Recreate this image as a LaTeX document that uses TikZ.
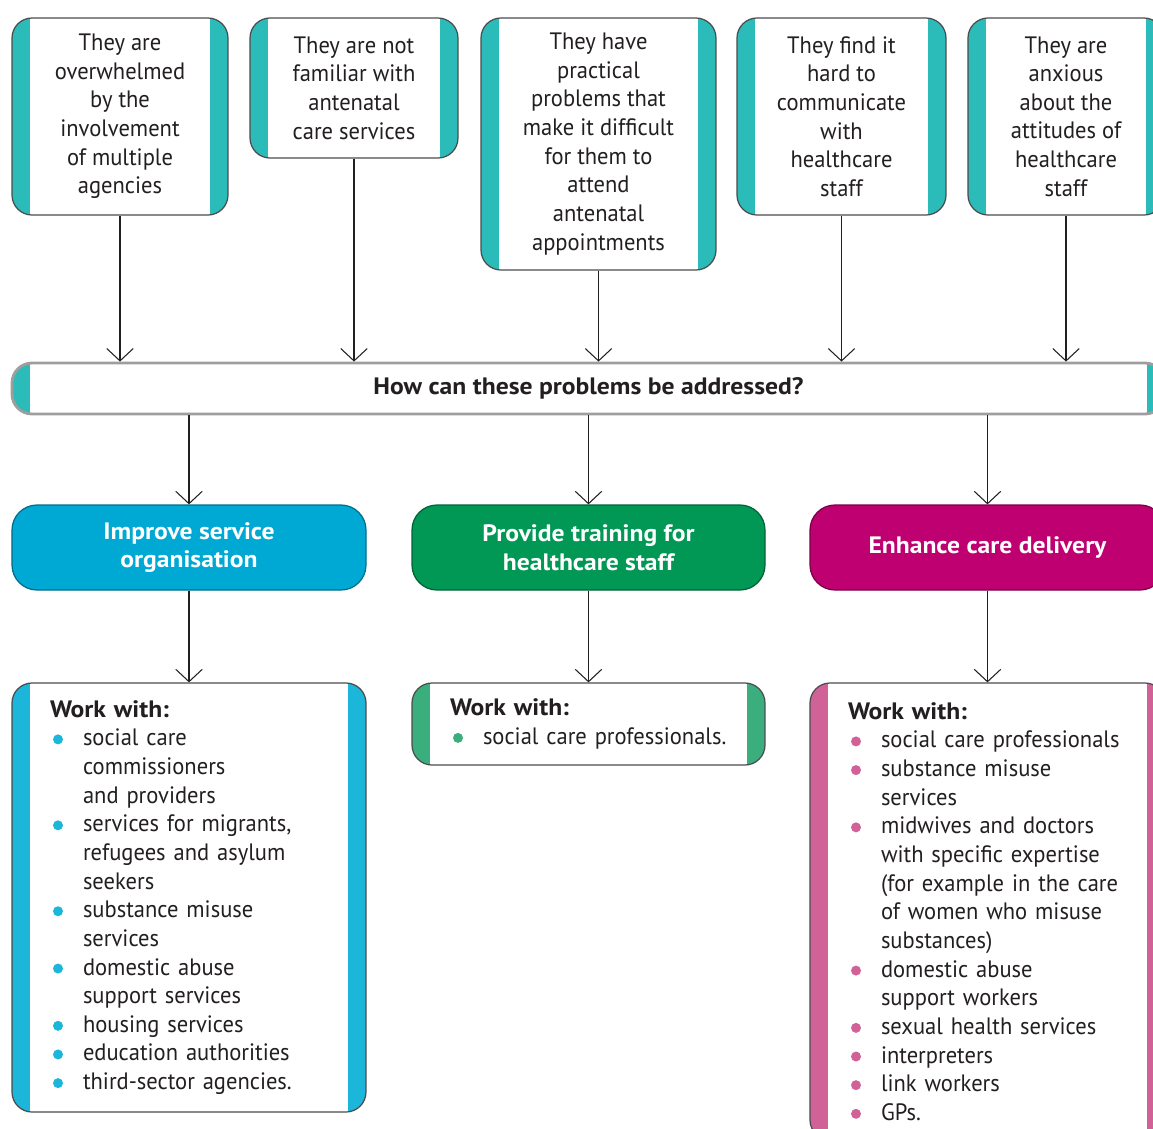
\documentclass[tikz,border=0pt]{standalone}
\usepackage{fontspec}
\setmainfont{PT Sans}[FakeStretch=0.95]
\newfontfamily\headfont{PT Sans}[FakeStretch=1.08]
\usetikzlibrary{arrows.meta,positioning,calc}

\definecolor{tealbar}{RGB}{43,187,185}
\definecolor{cyanfill}{RGB}{0,168,212}
\definecolor{greenfill}{RGB}{0,152,84}
\definecolor{magfill}{RGB}{190,0,112}
\definecolor{cyanbar}{RGB}{27,182,217}
\definecolor{greenbar}{RGB}{58,175,125}
\definecolor{pinkbar}{RGB}{208,98,152}
\definecolor{ink}{RGB}{35,31,32}

\hyphenpenalty=10000
\newcommand\bul[1]{\makebox[0.66cm][l]{\hspace*{0.06cm}\tikz[baseline=-0.13cm]\fill[#1] (0.1,0) circle (0.1cm);}}
\newcommand\cont{\hspace*{0.66cm}}
\newcommand\hd[1]{{\headfont\bfseries #1}}

\begin{document}
\begin{tikzpicture}[
  txt/.style={font=\fontsize{13.5}{16.3}\selectfont, text=ink},
  btxt/.style={font=\headfont\bfseries\fontsize{13.5}{16.3}\selectfont},
  bars/.style={path picture={
    \fill[#1, sharp corners] (path picture bounding box.south west) rectangle ([xshift=0.36cm]path picture bounding box.north west);
    \fill[#1, sharp corners] ([xshift=-0.36cm]path picture bounding box.south east) rectangle (path picture bounding box.north east);}},
  probbox/.style={txt, draw=black!70, line width=0.7pt, rounded corners=0.4cm, fill=white, align=center, inner sep=0pt, bars=tealbar},
  qbox/.style={btxt, text=ink, draw=black!38, line width=1.6pt, rounded corners=0.4cm, fill=white, inner sep=0pt, bars=tealbar},
  goalbox/.style={btxt, text=white, draw=#1!65!black, line width=0.7pt, fill=#1, rounded corners=0.5cm, align=center, inner sep=0pt, minimum height=1.7cm},
  listbox/.style={txt, draw=black!70, line width=0.7pt, rounded corners=0.4cm, fill=white, align=left, inner xsep=0.76cm, inner ysep=0pt, bars=#1},
  conn/.style={-{Straight Barb[length=7pt,width=15pt]}, line width=0.6pt, draw=ink}
]
\useasboundingbox (0,0) rectangle (23.06,-22.56);
\clip (0,0) rectangle (23.06,-22.56);

% Problems
\node[probbox, minimum width=4.32cm, minimum height=3.94cm] (p1) at (2.40,-2.33)
  {They are\\overwhelmed\\by the\\involvement\\of multiple\\agencies};
\node[probbox, minimum width=4.16cm, minimum height=2.80cm] (p2) at (7.08,-1.76)
  {They are not\\familiar with\\antenatal\\care services};
\node[probbox, minimum width=4.70cm, minimum height=5.04cm] (p3) at (11.97,-2.88)
  {They have\\practical\\problems that\\make it difficult\\for them to\\attend\\antenatal\\appointments};
\node[probbox, minimum width=4.18cm, minimum height=3.94cm] (p4) at (16.83,-2.33)
  {They find it\\hard to\\communicate\\with\\healthcare\\staff};
\node[probbox, minimum width=3.92cm, minimum height=3.94cm] (p5) at (21.32,-2.33)
  {They are\\anxious\\about the\\attitudes of\\healthcare\\staff};

% Question
\node[qbox, minimum width=23.06cm, minimum height=1.02cm] (q) at (11.77,-7.77)
  {How can these problems be addressed?};

% Approaches
\node[goalbox=cyanfill, minimum width=7.08cm] (g1) at (3.78,-10.95) {Improve service\\organisation};
\node[goalbox=greenfill, minimum width=7.06cm] (g2) at (11.77,-10.95) {Provide training for\\healthcare staff};
\node[goalbox=magfill, minimum width=7.10cm] (g3) at (19.75,-10.95) {Enhance care delivery};

% Who to work with
\node[listbox=cyanbar, minimum height=8.58cm, text width=5.56cm] (w1) at (3.78,-17.95)
  {\hd{Work with:}\\
   \bul{cyanbar}social care\\
   \cont commissioners\\
   \cont and providers\\
   \bul{cyanbar}services for migrants,\\
   \cont refugees and asylum\\
   \cont seekers\\
   \bul{cyanbar}substance misuse\\
   \cont services\\
   \bul{cyanbar}domestic abuse\\
   \cont support services\\
   \bul{cyanbar}housing services\\
   \bul{cyanbar}education authorities\\
   \bul{cyanbar}third-sector agencies.};
\node[listbox=greenbar, minimum height=1.64cm, text width=5.54cm] (w2) at (11.77,-14.48)
  {\hd{Work with:}\\
   \bul{greenbar}social care professionals.};
\node[listbox=pinkbar, minimum height=9.14cm, text width=5.58cm] (w3) at (19.75,-18.23)
  {\hd{Work with:}\\
   \bul{pinkbar}social care professionals\\
   \bul{pinkbar}substance misuse\\
   \cont services\\
   \bul{pinkbar}midwives and doctors\\
   \cont with specific expertise\\
   \cont (for example in the care\\
   \cont of women who misuse\\
   \cont substances)\\
   \bul{pinkbar}domestic abuse\\
   \cont support workers\\
   \bul{pinkbar}sexual health services\\
   \bul{pinkbar}interpreters\\
   \bul{pinkbar}link workers\\
   \bul{pinkbar}GPs.};

% Connectors
\foreach \n in {p1,p2,p3,p4,p5}
  \draw[conn] (\n.south) -- (\n.south |- q.north);
\foreach \n in {1,2,3} {
  \draw[conn] (g\n.north |- q.south) -- (g\n.north);
  \draw[conn] (g\n.south) -- (w\n.north);
}
\end{tikzpicture}
\end{document}
